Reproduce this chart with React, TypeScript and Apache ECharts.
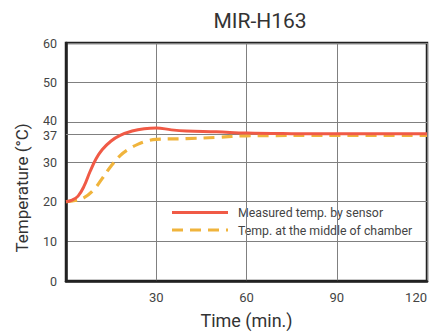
import React, { useEffect, useRef } from "react";
import * as echarts from "echarts";

const title = "MIR-H163";
const xTicks = [30, 60, 90];
const xLastTick = [120];
const yTicks = [0, 10, 20, 30, 37, 40, 50, 60];
const seriesNames = ["Measured temp. by sensor", "Temp. at the middle of chamber"];
const sensor: [number, number][] = [
  [0, 20], [2, 20.4], [4, 21.4], [6, 23.9], [8, 27.6], [10, 30.8], [12, 33.1],
  [15, 35.3], [18, 36.7], [22, 37.8], [26, 38.4], [30, 38.6], [35, 38.1],
  [40, 37.8], [50, 37.6], [60, 37.3], [75, 37.15], [90, 37.1], [120, 37.1],
];
const chamber: [number, number][] = [
  [0, 20], [3, 20.3], [6, 21], [9, 22.8], [12, 25.8], [15, 29], [18, 31.6],
  [21, 33.3], [24, 34.5], [27, 35.3], [30, 35.7], [40, 35.9], [50, 36.2],
  [60, 36.6], [90, 36.7], [120, 36.7],
];
const colors = ["#F05A46", "#F0B43C"];

export default function App() {
  const ref = useRef<HTMLDivElement>(null);
  useEffect(() => {
    if (!ref.current) return;
    const chart = echarts.init(ref.current, null, { renderer: "svg" });
    const font = "Roboto, 'DejaVu Sans Condensed', sans-serif";
    const legendText = { fontSize: 12.3, fill: "#444", fontFamily: font, verticalAlign: "middle" };
    const xLabel = { fontSize: 13, color: "#444", margin: 10, fontFamily: font };
    chart.setOption({
      animation: false,
      backgroundColor: "#fff",
      textStyle: { fontFamily: font },
      title: {
        text: title,
        left: 255,
        textAlign: "center",
        top: 5,
        textStyle: { fontSize: 21, fontWeight: "normal", color: "#333", fontFamily: font },
      },
      grid: {
        left: 66, right: 4, top: 43, bottom: 55,
        show: true, borderColor: "#222", borderWidth: 2.5, backgroundColor: "#fff",
      },
      graphic: [
        { type: "line", shape: { x1: 172, y1: 212.5, x2: 228, y2: 212.5 }, style: { stroke: colors[0], lineWidth: 3 } },
        { type: "text", x: 238, y: 213, style: { text: seriesNames[0], ...legendText } },
        { type: "line", shape: { x1: 172, y1: 230, x2: 228, y2: 230 }, style: { stroke: colors[1], lineWidth: 3, lineDash: [11, 7] } },
        { type: "text", x: 238, y: 230.5, style: { text: seriesNames[1], ...legendText } },
      ],
      xAxis: [
        {
          type: "value",
          position: "bottom",
          min: 0,
          max: 120,
          interval: 30,
          name: "Time (min.)",
          nameLocation: "middle",
          nameGap: 30,
          nameTextStyle: { fontSize: 18, color: "#333", fontFamily: font },
          axisLine: { show: true, lineStyle: { color: "#222", width: 2.5 } },
          axisTick: { show: false },
          axisLabel: { customValues: xTicks, ...xLabel },
          splitLine: { show: true, lineStyle: { color: "#808080", width: 1 } },
        },
        {
          type: "value",
          position: "bottom",
          offset: 0,
          min: 0,
          max: 120,
          interval: 30,
          axisLine: { show: false },
          axisTick: { show: false },
          axisLabel: { customValues: xLastTick, align: "right", ...xLabel },
          splitLine: { show: false },
        },
      ],
      yAxis: {
        type: "value",
        min: 0,
        max: 60,
        interval: 10,
        name: "Temperature (°C)",
        nameLocation: "middle",
        nameGap: 36,
        nameTextStyle: { fontSize: 17, color: "#333", fontFamily: font, padding: [0, 52, 0, 0] },
        axisLine: { show: true, lineStyle: { color: "#222", width: 2.5 } },
        axisTick: { show: false },
        axisLabel: {
          customValues: yTicks,
          fontSize: 12.5, color: "#444", margin: 9, fontFamily: font,
          formatter: (v: number) => (v === 37 ? "{lo|37}" : v === 40 ? "{hi|40}" : String(v)),
          rich: {
            lo: { fontSize: 12.5, color: "#444", fontFamily: font, lineHeight: 11, padding: [3, 0, 0, 0] },
            hi: { fontSize: 12.5, color: "#444", fontFamily: font, lineHeight: 11, padding: [0, 0, 3, 0] },
          },
        },
        splitLine: { show: true, lineStyle: { color: "#808080", width: 1 } },
      },
      series: [
        {
          name: seriesNames[0],
          type: "line",
          data: sensor,
          smooth: 0.4,
          symbol: "none",
          lineStyle: { color: colors[0], width: 3 },
          itemStyle: { color: colors[0] },
          z: 3,
          markLine: {
            silent: true,
            symbol: "none",
            label: { show: false },
            lineStyle: { color: "#808080", width: 1, type: "solid" },
            data: [{ yAxis: 37 }],
            z: 1,
          },
        },
        {
          name: seriesNames[1],
          type: "line",
          data: chamber,
          smooth: 0.4,
          symbol: "none",
          lineStyle: { color: colors[1], width: 3.2, type: [11, 7] },
          itemStyle: { color: colors[1] },
          z: 2,
        },
      ],
    });
    return () => chart.dispose();
  }, []);
  return <div ref={ref} style={{ width: 431, height: 336, position: "absolute", left: 0, top: 0 }} />;
}
